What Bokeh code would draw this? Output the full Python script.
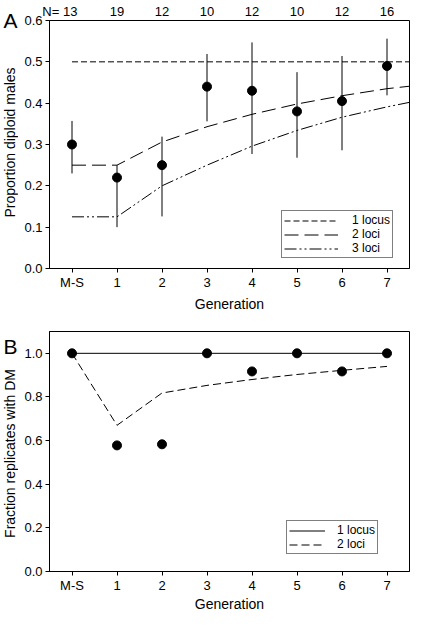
import math
from bokeh.plotting import figure
from bokeh.models import (FixedTicker, LinearAxis, Range1d, Legend, LegendItem,
                          Label, ColumnDataSource)
from bokeh.layouts import column, row
from bokeh.embed import file_html
from bokeh.resources import INLINE

FONT = "Liberation Sans"

# ---------------- data ----------------
generations = ["M-S", "1", "2", "3", "4", "5", "6", "7"]
gen_pos = [0, 1, 2, 3, 4, 5, 6, 7]
sample_n = ["N=", "13", "19", "12", "10", "12", "10", "12", "16"]
sample_n_pos = [-0.47, -0.04, 1, 2, 3, 4, 5, 6, 7]

# Panel A: proportion diploid males with error bars
prop_dm = [0.30, 0.22, 0.25, 0.44, 0.43, 0.38, 0.405, 0.49]
prop_lo = [0.23, 0.10, 0.126, 0.356, 0.277, 0.268, 0.286, 0.419]
prop_hi = [0.357, 0.25, 0.319, 0.519, 0.547, 0.475, 0.514, 0.556]

model_x_a = [0, 1, 2, 3, 4, 5, 6, 7, 7.5]
one_locus_a = [0.5, 0.5, 0.5, 0.5, 0.5, 0.5, 0.5, 0.5, 0.5]
two_loci_a = [0.25, 0.25, 0.306, 0.343, 0.373, 0.398, 0.418, 0.435, 0.441]
three_loci_a = [0.125, 0.125, 0.20, 0.25, 0.296, 0.334, 0.366, 0.391, 0.402]

# Panel B: fraction of replicates with diploid males
frac_dm = [1.0, 0.578, 0.583, 1.0, 0.917, 1.0, 0.917, 1.0]
model_x_b = [0, 1, 2, 3, 4, 5, 6, 7]
one_locus_b = [1.0, 1.0, 1.0, 1.0, 1.0, 1.0, 1.0, 1.0]
two_loci_b = [1.0, 0.670, 0.818, 0.853, 0.880, 0.903, 0.922, 0.940]

SIDE_W = 18
HA = 322
HB = 292


def style(p, yticks, x_als):
    p.grid.visible = False
    p.outline_line_color = "black"
    p.outline_line_width = 1
    p.background_fill_color = "white"
    p.border_fill_color = "white"
    p.xaxis.ticker = FixedTicker(ticks=gen_pos)
    p.xaxis.major_label_overrides = {g: lab for g, lab in zip(gen_pos, generations)}
    p.yaxis.ticker = FixedTicker(ticks=yticks)
    p.yaxis.major_label_overrides = {t: f"{t:.1f}" for t in yticks}
    p.xaxis.axis_label = "Generation"
    for ax in (p.xaxis[0], p.yaxis[0]):
        ax.axis_line_color = "black"
        ax.major_tick_line_color = "black"
        ax.minor_tick_line_color = None
        ax.major_tick_in = 0
        ax.major_tick_out = 4
        ax.major_label_text_font = FONT
        ax.major_label_text_font_size = "13px"
        ax.major_label_text_color = "black"
        ax.axis_label_text_font = FONT
        ax.axis_label_text_font_size = "14px"
        ax.axis_label_text_font_style = "normal"
        ax.axis_label_text_color = "black"
    p.xaxis.major_label_standoff = 2
    p.xaxis.axis_label_standoff = x_als
    p.yaxis.major_label_standoff = 3


def make_legend(items, loc, gw, standoff, pad):
    lg = Legend(items=items, location=loc)
    lg.border_line_color = "black"
    lg.border_line_width = 1
    lg.background_fill_color = "white"
    lg.background_fill_alpha = 1
    lg.padding = pad
    lg.spacing = 0
    lg.margin = 0
    lg.glyph_width = gw
    lg.glyph_height = 13
    lg.label_height = 13
    lg.label_standoff = standoff
    lg.label_text_font = FONT
    lg.label_text_font_size = "12px"
    lg.label_text_color = "black"
    return lg


# ---------------- Side strip (panel letters and y-axis titles) ----------------
side = figure(width=SIDE_W, height=HA + HB, x_range=Range1d(0, SIDE_W),
              y_range=Range1d(HA + HB, 0), output_backend="svg", toolbar_location=None,
              x_axis_location=None, y_axis_location=None, min_border=0, title=None)
side.grid.visible = False
side.outline_line_color = None
side.background_fill_color = "white"
side.border_fill_color = "white"


def side_texts(letter, letter_base, ylabel, ylabel_center):
    side.add_layout(Label(x=3, y=letter_base, text=letter, text_font=FONT, text_font_size="21px",
                          text_align="left", text_baseline="alphabetic", text_color="black"))
    side.add_layout(Label(x=9.7, y=ylabel_center, text=ylabel, text_font=FONT,
                          text_font_size="14px", text_align="center", text_baseline="middle",
                          angle=math.pi / 2, text_color="black"))


side_texts("A", 19.5, "Proportion diploid males", 142)
side_texts("B", HA + 24, "Fraction replicates with DM", HA + 131)

# ---------------- Panel A ----------------
pA = figure(width=411 - SIDE_W, height=HA, x_range=Range1d(-0.5, 7.5), y_range=Range1d(0, 0.6),
            output_backend="svg", toolbar_location=None,
            min_border_left=49 - SIDE_W, min_border_right=2, min_border_top=16, min_border_bottom=54)
style(pA, [0, 0.1, 0.2, 0.3, 0.4, 0.5, 0.6], 3)

top = LinearAxis(ticker=FixedTicker(ticks=sample_n_pos),
                 major_label_overrides={g: n for g, n in zip(sample_n_pos, sample_n)})
top.axis_line_color = None
top.major_tick_line_color = None
top.minor_tick_line_color = None
top.major_tick_out = 0
top.major_tick_in = 0
top.major_label_standoff = 2
top.major_label_text_font = FONT
top.major_label_text_font_size = "13px"
top.major_label_text_color = "black"
pA.add_layout(top, "above")

srcA = ColumnDataSource(dict(x=gen_pos, y=prop_dm, lo=prop_lo, hi=prop_hi))
pA.segment(x0="x", y0="lo", x1="x", y1="hi", source=srcA, line_color="black", line_width=1)
r1 = pA.line(model_x_a, one_locus_a, line_color="black", line_width=1, line_dash="6 3")
r2 = pA.line(model_x_a, two_loci_a, line_color="black", line_width=1, line_dash="14 6")
r3 = pA.line(model_x_a, three_loci_a, line_color="black", line_width=1, line_dash="12 3 2 3 2 3")
pA.scatter(x="x", y="y", source=srcA, size=9, marker="circle", fill_color="black", line_color="black")

pA.add_layout(make_legend([LegendItem(label="1 locus", renderers=[r1]),
                           LegendItem(label="2 loci", renderers=[r2]),
                           LegendItem(label="3 loci", renderers=[r3])],
                          (232, 10), 54, 14, 2))

# ---------------- Panel B ----------------
pB = figure(width=411 - SIDE_W, height=HB, x_range=Range1d(-0.5, 7.5), y_range=Range1d(0, 1.1),
            output_backend="svg", toolbar_location=None,
            min_border_left=49 - SIDE_W, min_border_right=2, min_border_top=9, min_border_bottom=41)
style(pB, [0, 0.2, 0.4, 0.6, 0.8, 1.0], 0)

b1 = pB.line(model_x_b, one_locus_b, line_color="black", line_width=1)
b2 = pB.line(model_x_b, two_loci_b, line_color="black", line_width=1, line_dash="8 4")
pB.scatter(gen_pos, frac_dm, size=9, marker="circle", fill_color="black", line_color="black")

pB.add_layout(make_legend([LegendItem(label="1 locus", renderers=[b1]),
                           LegendItem(label="2 loci", renderers=[b2])],
                          (237, 17), 36, 12, 2))

layout = row(side, column(pA, pB, spacing=0), spacing=0)
open("out.html", "w").write(file_html(layout, INLINE))
